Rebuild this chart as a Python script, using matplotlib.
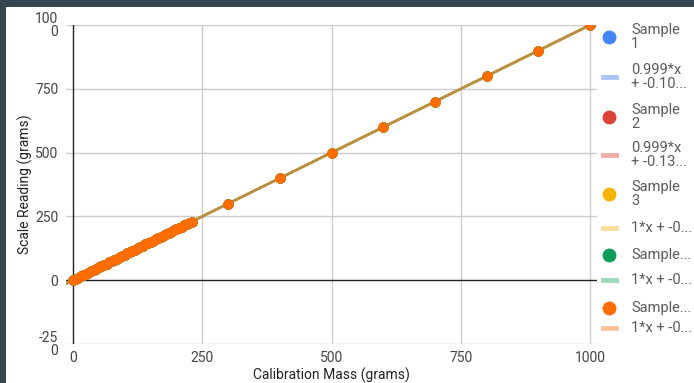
import numpy as np
import matplotlib.pyplot as plt
from matplotlib.patches import Rectangle
from matplotlib.lines import Line2D

plt.rcParams['font.family'] = ['Roboto', 'DejaVu Sans']

# calibration masses: dense 0..230 then every 100 up to 1000
mass = list(range(0, 231, 5)) + [300, 400, 500, 600, 700, 800, 900, 1000]
reading = list(mass)

series_names = ['Sample\n1', 'Sample\n2', 'Sample\n3', 'Sample...', 'Sample...']
trend_names = ['0.999*x\n+ -0.10...', '0.999*x\n+ -0.13...', '1*x + -0...', '1*x + -0...', '1*x + -0...']
slopes = [0.999, 0.999, 1.0, 1.0, 1.0]
intercepts = [-0.10, -0.13, -0.0, -0.0, -0.0]
colors = ['#4285f4', '#db4437', '#f4b400', '#0f9d58', '#ff6d00']
trend_colors = ['#a9c5f9', '#f0aca6', '#fbe09a', '#9fd7bc', '#ffc299']

yticks = [-250, 0, 250, 500, 750, 1000]
ytick_labels = ['-25\n0', '0', '250', '500', '750', '100\n0']
xticks = [0, 250, 500, 750, 1000]

fig = plt.figure(figsize=(6.94, 3.83), dpi=100)
fig.patch.set_facecolor('#37474f')
fig.patches.append(Rectangle((6 / 694, 0), 1, 1 - 7 / 383, transform=fig.transFigure,
                             facecolor='white', edgecolor='none', zorder=-5))

ax = fig.add_axes([66 / 694, 39 / 383, 531 / 694, 319 / 383])
ax.set_facecolor('none')
ax.set_xlim(-13.5, 1013.5)
ax.set_ylim(-250, 1000)

for s in ax.spines.values():
    s.set_visible(False)
for y in yticks:
    if y != 0:
        ax.axhline(y, color='#cccccc', lw=1, zorder=1)
for x in xticks:
    if x != 0:
        ax.axvline(x, color='#cccccc', lw=1, zorder=1)
ax.axhline(0, color='#222222', lw=1, zorder=2)
ax.axvline(0, color='#222222', lw=1, zorder=2)

xs = np.array(ax.get_xlim())
for i in range(5):
    ax.plot(xs, slopes[i] * xs + intercepts[i], color='#bb9040', lw=1.8, alpha=0.5 if i < 4 else 1, zorder=3)
for i in range(5):
    ax.plot(mass, reading, 'o', color=colors[i], ms=7.5, mec='none', zorder=4 + i)

ax.set_yticks(yticks)
ax.set_yticklabels(ytick_labels, linespacing=0.85)
ax.set_xticks(xticks)
ax.set_xticklabels([str(x) for x in xticks])
ax.tick_params(length=0, colors='#444444', labelsize=10)
ax.tick_params(axis='y', pad=5.5)
ax.tick_params(axis='x', pad=5)
ax.set_xlabel('Calibration Mass (grams)', fontsize=10, color='#222222', labelpad=2)
ax.set_ylabel('Scale Reading (grams)', fontsize=10, color='#222222')
ax.yaxis.set_label_coords(-0.062, 0.5)

# legend drawn by hand
leg_y = [37, 77, 117, 155, 194, 228, 255, 280, 308, 328]
for i in range(5):
    ym = 1 - leg_y[2 * i] / 383
    yl = 1 - leg_y[2 * i + 1] / 383
    fig.lines.append(Line2D([609 / 694], [ym], marker='o', ms=10, color=colors[i], mec='none',
                            transform=fig.transFigure))
    fig.lines.append(Line2D([603 / 694, 616 / 694], [yl, yl], lw=3.5, color=trend_colors[i],
                            transform=fig.transFigure))
    fig.text(631 / 694, ym, series_names[i], fontsize=10.5, color='#5a5a5a', va='center', linespacing=0.95)
    fig.text(631 / 694, yl, trend_names[i], fontsize=10.5, color='#5a5a5a', va='center', linespacing=0.95)

fig.savefig('out.png', dpi=100, facecolor=fig.get_facecolor())
